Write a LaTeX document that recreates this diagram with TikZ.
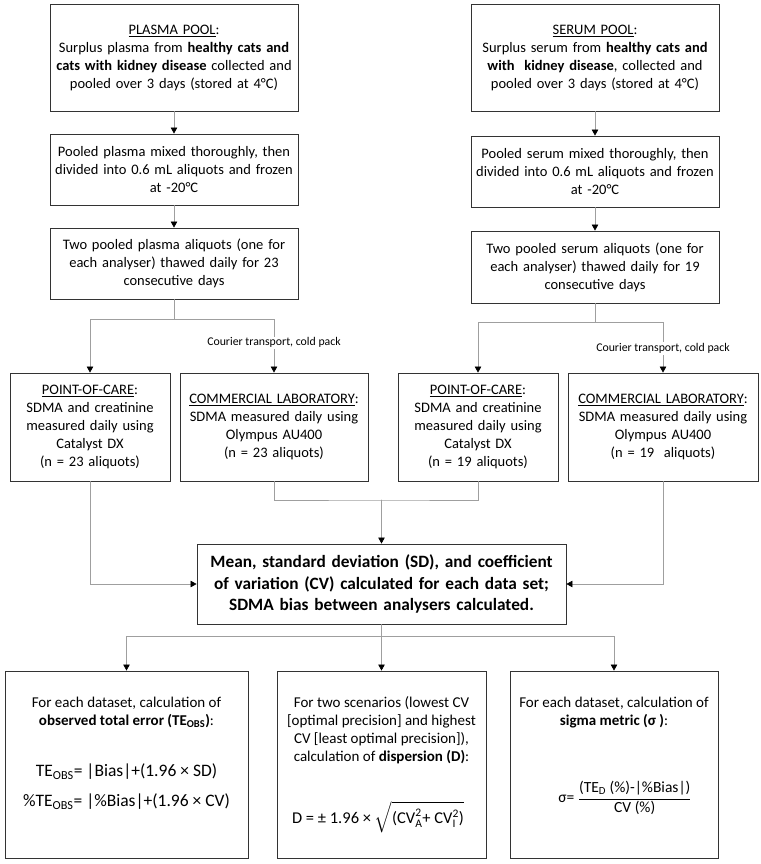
\documentclass[tikz,border=0pt]{standalone}
\usepackage{amsmath}
\usepackage{fontspec}
\setmainfont{Carlito}
\usepackage{tikz}
\usetikzlibrary{arrows.meta}

\begin{document}
\begin{tikzpicture}[x=1pt,y=-1pt,line cap=round,
  box/.style={draw=black!80,line width=.9pt,align=center,inner xsep=2pt,inner ysep=0pt,
    font=\fontsize{14.5}{18}\selectfont},
  link/.style={draw=gray!75,line width=.6pt},
  tip/.style={-{Triangle[length=6pt,width=6.5pt,color=black]}},
  note/.style={fill=white,inner sep=1pt,font=\fontsize{11.8}{13}\selectfont},
  txt/.style={align=center,font=\fontsize{15}{18}\selectfont}]
  \useasboundingbox (0,0) rectangle (760,864);
  % Pools and their preparation, plasma on the left, serum on the right.
  \node[box,text width=244pt,minimum height=107pt] (ppool) at (174,57.5)
    {\underline{PLASMA POOL}:\\Surplus plasma from \textbf{healthy cats and}\\
     \textbf{cats with kidney disease} collected and\\pooled over 3 days (stored at 4°C)};
  \node[box,text width=244pt,minimum height=71pt] (pmix) at (174,169.5)
    {Pooled plasma mixed thoroughly, then\\divided into 0.6 mL aliquots and frozen\\at -20°C};
  \node[box,text width=244pt,minimum height=71pt] (pthaw) at (174,263.5)
    {Two pooled plasma aliquots (one for\\each analyser) thawed daily for 23\\consecutive days};
  \node[box,text width=244pt,minimum height=107pt] (spool) at (595,57.5)
    {\underline{SERUM POOL}:\\Surplus serum from \textbf{healthy cats and}\\
     \textbf{with\ \ kidney disease}, collected and\\pooled over 3 days (stored at 4°C)};
  \node[box,text width=244pt,minimum height=71pt] (smix) at (595,171.5)
    {Pooled serum mixed thoroughly, then\\divided into 0.6 mL aliquots and frozen\\at -20°C};
  \node[box,text width=244pt,minimum height=72pt] (sthaw) at (595,267)
    {Two pooled serum aliquots (one for\\each analyser) thawed daily for 19\\consecutive days};
  % Analysers.
  \node[box,text width=156pt,minimum height=108pt] (pcare) at (90,427)
    {\underline{POINT-OF-CARE}:\\SDMA and creatinine\\measured daily using\\Catalyst DX\\(n = 23 aliquots)};
  \node[box,text width=184pt,minimum height=108pt] (plab) at (274,427)
    {\underline{COMMERCIAL LABORATORY}:\\SDMA measured daily using\\Olympus AU400\\(n = 23 aliquots)};
  \node[box,text width=156pt,minimum height=108pt] (scare) at (478,427)
    {\underline{POINT-OF-CARE}:\\SDMA and creatinine\\measured daily using\\Catalyst DX\\(n = 19 aliquots)};
  \node[box,text width=186pt,minimum height=108pt] (slab) at (663,427)
    {\underline{COMMERCIAL LABORATORY}:\\SDMA measured daily using\\Olympus AU400\\(n = 19\ \ aliquots)};
  \node[box,text width=365pt,minimum height=80pt,font=\fontsize{17.3}{21.7}\selectfont\bfseries]
    (stats) at (381.5,584)
    {Mean, standard deviation (SD), and coefficient\\of variation (CV) calculated for each data set;\\
     SDMA bias between analysers calculated.};
  % Calculations.
  \node[box,minimum width=243pt,minimum height=187pt] (teobs) at (126.5,764.5) {};
  \node[box,minimum width=209pt,minimum height=187pt] (disp) at (381.5,764.5) {};
  \node[box,minimum width=208pt,minimum height=187pt] (sigma) at (614,764.5) {};
  \node[txt] (teobshead) at (126.5,712.5)
    {For each dataset, calculation of\\\textbf{observed total error (TE\textsubscript{OBS})}:};
  \node[txt,font=\fontsize{17.5}{30}\selectfont] (teobseq) at (126.5,787)
    {TE\textsubscript{OBS}= |Bias|+(1.96 × SD)\\\%TE\textsubscript{OBS}= |\%Bias|+(1.96 × CV)};
  \node[txt] (disphead) at (381.5,730)
    {For two scenarios (lowest CV\\{[}optimal precision{]} and highest\\CV {[}least optimal precision{]}),\\
     calculation of \textbf{dispersion (D)}:};
  \node[txt,font=\fontsize{16.5}{18}\selectfont] (dispeq) at (378,817)
    {D = ± 1.96 × $\sqrt{\text{(CV}^{\text{2}}_{\text{A}}\text{+ CV}^{\text{2}}_{\text{I}}\text{)}}$};
  \node[txt] (sigmahead) at (614,712.5)
    {For each dataset, calculation of\\\textbf{sigma metric (σ )}:};
  \node[txt,font=\fontsize{15.5}{18}\selectfont] (sigmaeq) at (625,798)
    {σ= $\displaystyle\frac{\text{(TE\textsubscript{D} (\%)-|\%Bias|)}}{\text{CV (\%)}}$};
  % Connectors.
  \foreach \a/\b in {ppool/pmix,pmix/pthaw,spool/smix,smix/sthaw}
    \draw[link,tip] (\a) -- (\b);
  \draw[link] (pthaw.south) -- ++(0,20) coordinate (psplit);
  \draw[link,tip] (psplit) -| (pcare.north);
  \draw[link,tip] (psplit) -| node[note,pos=.72] (pnote) {Courier transport, cold pack} (plab.north);
  \draw[link] (sthaw.south) -- ++(0,19) coordinate (ssplit);
  \draw[link,tip] (ssplit) -| (scare.north);
  \draw[link,tip] (ssplit) -| node[note,pos=.76] (snote) {Courier transport, cold pack} (slab.north);
  \coordinate (mjoin) at (381.5,500);
  \draw[link] (plab.south) |- (mjoin) -| (scare.south);
  \draw[link,tip] (mjoin) -- (stats.north);
  \draw[link,tip] (pcare.south) |- (stats.west);
  \draw[link,tip] (slab.south) |- (stats.east);
  \draw[link,tip] (stats.south) -- (disp.north);
  \coordinate (bjoin) at (381.5,636);
  \draw[link,tip] (bjoin) -| (teobs.north);
  \draw[link,tip] (bjoin) -| (sigma.north);
\end{tikzpicture}
\end{document}
